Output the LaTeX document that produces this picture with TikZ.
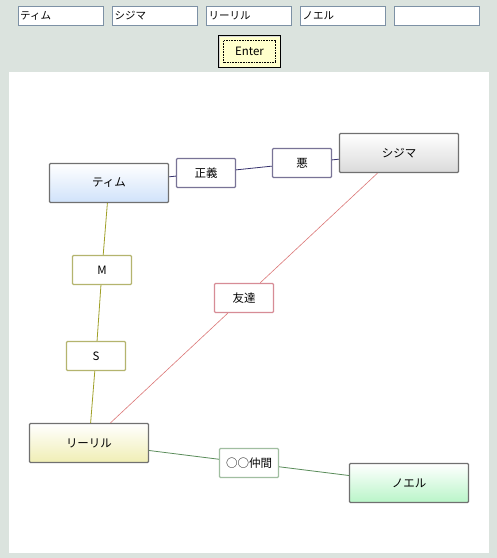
\documentclass[tikz,border=0pt]{standalone}
\usepackage{fontspec}
\setmainfont{Noto Sans CJK JP}
\definecolor{bgc}{RGB}{219,227,222}
\definecolor{inb}{RGB}{125,145,165}
\definecolor{btn}{RGB}{255,255,204}
\definecolor{nbord}{RGB}{112,112,112}
\definecolor{navyl}{RGB}{55,50,110}
\definecolor{navyb}{RGB}{120,115,150}
\definecolor{olivel}{RGB}{160,160,40}
\definecolor{oliveb}{RGB}{180,180,110}
\definecolor{redl}{RGB}{220,120,120}
\definecolor{redb}{RGB}{215,140,150}
\definecolor{greenl}{RGB}{90,140,90}
\definecolor{greenb}{RGB}{160,190,160}
\definecolor{timc}{RGB}{208,226,250}
\definecolor{shic}{RGB}{218,218,218}
\definecolor{lilc}{RGB}{240,238,180}
\definecolor{noec}{RGB}{185,245,200}
\tikzset{
  mainnode/.style={rectangle, draw=nbord, line width=1.4pt, rounded corners=1pt,
    minimum width=119pt, minimum height=39pt, inner sep=0pt, top color=white,
    font=\fontsize{11.5pt}{13pt}\selectfont},
  lbl/.style={rectangle, draw=#1, fill=white, line width=1.4pt, rounded corners=1pt,
    minimum width=59pt, minimum height=29pt, inner sep=0pt,
    font=\fontsize{11.5pt}{13pt}\selectfont},
  inbox/.style={rectangle, draw=inb, fill=white, line width=0.8pt, minimum width=85pt,
    minimum height=19pt, inner sep=0pt},
  intext/.style={anchor=west, inner sep=0pt, font=\fontsize{10.5pt}{12pt}\selectfont},
  edge/.style={line width=0.8pt}
}
\begin{document}
\begin{tikzpicture}[x=1pt,y=-1pt]
\useasboundingbox (0,0) rectangle (497,558);
\fill[bgc] (0,0) rectangle (497,558);
% input boxes
\node[inbox] (in1) at (60.5,16) {};
\node[inbox] (in2) at (155,16) {};
\node[inbox] (in3) at (249,16) {};
\node[inbox] (in4) at (343,16) {};
\node[inbox] (in5) at (437,16) {};
\node[intext] (t1) at (20,16) {ティム};
\node[intext] (t2) at (114.5,16) {シジマ};
\node[intext] (t3) at (208.5,16) {リーリル};
\node[intext] (t4) at (302.5,16) {ノエル};
% Enter button
\node[rectangle, draw=black, fill=btn, line width=1.6pt, minimum width=62pt, minimum height=32pt,
  inner sep=0pt] (enter) at (249.5,51.5) {};
\draw[white!70!gray, line width=1.2pt] ([xshift=1.8pt,yshift=1.8pt]enter.south west) -- ([xshift=1.8pt,yshift=-1.8pt]enter.north west) -- ([xshift=-1.8pt,yshift=-1.8pt]enter.north east);
\node[rectangle, draw=black, densely dotted, line width=0.6pt, minimum width=52pt, minimum height=22pt,
  inner sep=0pt, font=\fontsize{11.5pt}{13pt}\selectfont] (entert) at (249.5,51.5) {Enter};
% canvas
\fill[white] (9,72) rectangle (489,553);
% main nodes
\node[mainnode, bottom color=timc] (tim) at (109,183) {ティム};
\node[mainnode, bottom color=shic] (shi) at (399,153) {シジマ};
\node[mainnode, bottom color=lilc] (lil) at (89,443) {リーリル};
\node[mainnode, bottom color=noec] (noe) at (409,483) {ノエル};
% label nodes
\node[lbl=navyb] (sei) at (206,173) {正義};
\node[lbl=navyb] (aku) at (302,163) {悪};
\node[lbl=oliveb] (m) at (102,270) {M};
\node[lbl=oliveb] (s) at (96,356) {S};
\node[lbl=redb] (tomo) at (244,298) {友達};
\node[lbl=greenb] (naka) at (249,463) {○○仲間};
% edges
\draw[edge, navyl] (tim) -- (sei) -- (aku) -- (shi);
\draw[edge, olivel] (tim) -- (m) -- (s) -- (lil);
\draw[edge, redl, line width=0.6pt] (shi) -- (tomo) -- (lil);
\draw[edge, greenl] (lil) -- (naka) -- (noe);
\end{tikzpicture}
\end{document}
